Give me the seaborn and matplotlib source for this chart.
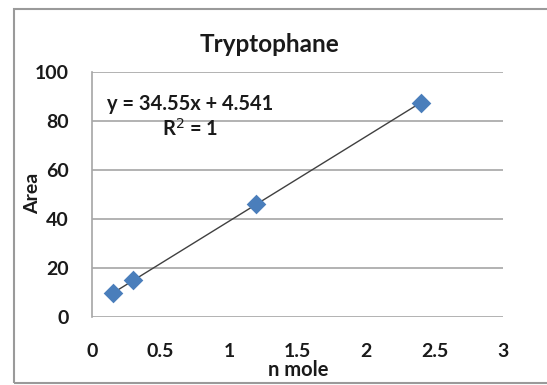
import matplotlib
matplotlib.use("Agg")
import matplotlib.pyplot as plt
import matplotlib.patches as mpatches
import seaborn as sns
import pandas as pd

# data
n_mole = [0.15, 0.3, 1.2, 2.4]
area = [9.7, 14.9, 46.0, 87.5]
x_ticks = [0, 0.5, 1, 1.5, 2, 2.5, 3]
x_tick_labels = ["0", "0.5", "1", "1.5", "2", "2.5", "3"]
y_ticks = [0, 20, 40, 60, 80, 100]
title = "Tryptophane"
equation = "y = 34.55x + 4.541"
r2_text = "R$^2$ = 1"

df = pd.DataFrame({"n mole": n_mole, "Area": area})

sns.set_theme(style="white")
plt.rcParams["font.family"] = ["Lato", "DejaVu Sans"]

W, H = 547, 385
fig = plt.figure(figsize=(W / 100, H / 100), dpi=100)
ax = fig.add_axes([92 / W, 1 - 317 / H, (503 - 92) / W, (317 - 72) / H])

# outer chart border
fig.patches.append(mpatches.Rectangle((14 / W, 1 - 383 / H), 1.2, (383 - 9) / H,
                                      transform=fig.transFigure, fill=False,
                                      edgecolor="#9a9a9a", linewidth=1.5, clip_on=False))

sns.regplot(data=df, x="n mole", y="Area", ax=ax, scatter=False, ci=None,
            truncate=True, line_kws={"color": "#404040", "linewidth": 1.0, "zorder": 3})
sns.scatterplot(data=df, x="n mole", y="Area", ax=ax, marker="D", s=100,
                color="#4a7ebb", edgecolor="#4a7ebb", linewidth=0, zorder=4)

ax.set_xlim(0, 3)
ax.set_ylim(0, 100)
ax.set_xticks(x_ticks)
ax.set_xticklabels(x_tick_labels)
ax.set_yticks(y_ticks)
ax.yaxis.grid(True, color="#a6a6a6", linewidth=1.2)
ax.xaxis.grid(False)
for s in ["top", "right", "bottom"]:
    ax.spines[s].set_visible(False)
ax.spines["left"].set_color("#a6a6a6")
ax.spines["left"].set_linewidth(1.2)
ax.tick_params(axis="x", length=0, pad=19, labelsize=14, labelcolor="#1a1a1a")
ax.tick_params(axis="y", length=0, pad=17, labelsize=14, labelcolor="#1a1a1a")
for lbl in ax.get_xticklabels() + ax.get_yticklabels():
    lbl.set_fontweight("bold")

ax.set_xlabel("")
ax.set_ylabel("")
fig.text(298 / W, 1 - 370 / H, "n mole", ha="center", va="center",
         fontsize=14.5, fontweight="bold", color="#1a1a1a")
fig.text(33 / W, 1 - 193 / H, "Area", ha="center", va="center", rotation=90,
         fontsize=14, fontweight="bold", color="#1a1a1a")
fig.text(269 / W, 1 - 45 / H, title, ha="center", va="center",
         fontsize=17.5, fontweight="bold", color="#1a1a1a")
fig.text(190 / W, 1 - 104 / H, equation, ha="center", va="center",
         fontsize=14.4, fontweight="bold", color="#1a1a1a")
fig.text(190 / W, 1 - 129 / H, r2_text, ha="center", va="center",
         fontsize=14.4, fontweight="bold", color="#1a1a1a")

fig.savefig("out.png", dpi=100)
